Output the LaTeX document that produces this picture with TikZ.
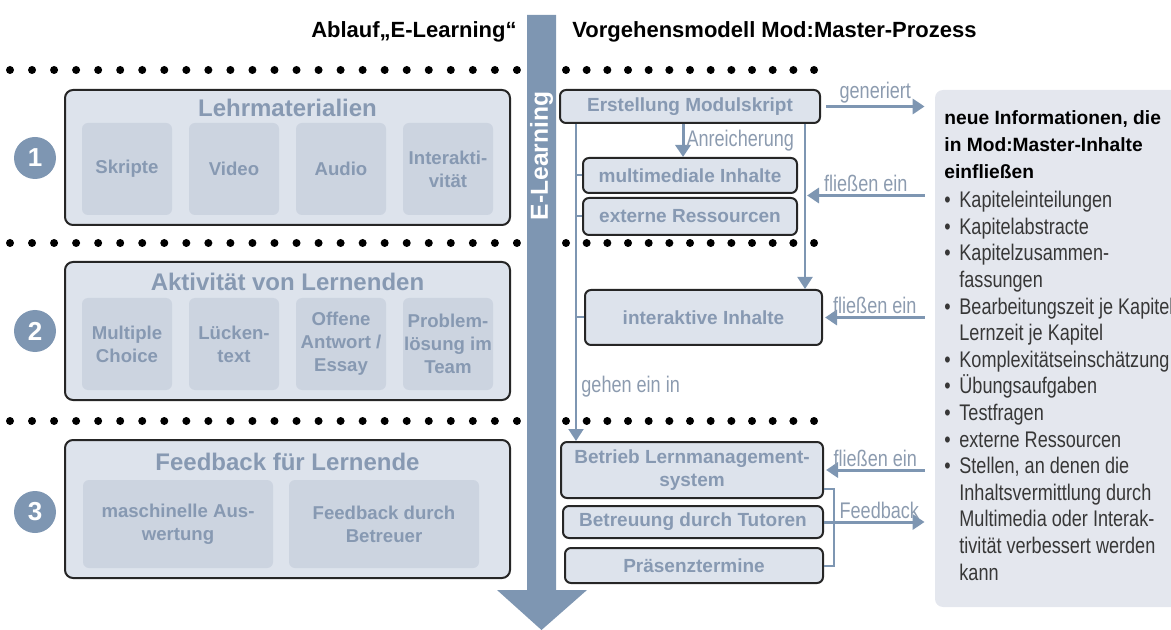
\documentclass[tikz,border=0pt]{standalone}
\usepackage{fontspec}
\setmainfont{Liberation Sans}
\newfontfamily\condfont{Liberation Sans}[FakeStretch=0.8]
\usetikzlibrary{arrows.meta,calc}
\definecolor{spine}{RGB}{126,150,178}
\definecolor{boxtext}{RGB}{135,153,178}
\definecolor{stagefill}{RGB}{221,227,236}
\definecolor{itemfill}{RGB}{204,212,224}
\definecolor{infofill}{RGB}{228,231,238}
\definecolor{lblgray}{RGB}{140,155,175}
\definecolor{listtext}{RGB}{55,55,55}
\newcommand{\lbul}{\makebox[7.5pt][l]{\textbullet}}
\newcommand{\lind}{\hspace*{7.5pt}}
\tikzset{>={Triangle[length=6pt,width=7.5pt]},
  flow/.style={->,draw=spine,line width=1.5pt},
  tie/.style={draw=spine,line width=1pt},
  stage/.style={draw=black!85,line width=1pt,fill=stagefill,rounded corners=4pt,
    inner sep=0pt,minimum width=222.5pt},
  item/.style={fill=itemfill,rounded corners=3pt,text=boxtext,align=center,
    font=\bfseries\fontsize{9.3}{11.5}\selectfont,inner sep=0pt,
    minimum width=45pt,minimum height=46pt},
  ttl/.style={text=boxtext,font=\bfseries\fontsize{12}{14}\selectfont},
  num/.style={circle,fill=spine,text=white,font=\bfseries\fontsize{13}{15}\selectfont,
    minimum size=21pt,inner sep=0pt},
  proc/.style={draw=black!85,line width=1pt,fill=stagefill,rounded corners=3pt,
    text=boxtext,font=\bfseries\fontsize{9.5}{11.5}\selectfont,align=center,inner sep=0pt},
  lbl/.style={text=lblgray,font=\condfont\fontsize{11.3}{13}\selectfont,inner sep=1pt},
  head/.style={font=\bfseries\fontsize{11}{13}\selectfont,inner sep=0pt}}

\begin{document}
\begin{tikzpicture}[x=0.5pt,y=-0.5pt]
  \useasboundingbox (0,0) rectangle (1171,630);
  % headings
  \node[head,anchor=east] (ttlL) at (517,32) {Ablauf„E-Learning“};
  \node[head,anchor=west] (ttlR) at (572,32) {Vorgehensmodell Mod:Master-Prozess};
  % dotted rows
  \foreach \y in {70,243,421} {
    \foreach \i in {0,...,23} \fill (10+22.04*\i,\y) circle (2pt);
    \foreach \i in {0,...,12} \fill (566+20.67*\i,\y) circle (2pt);
  }
  % E-Learning spine
  \fill[spine] (527,15) -- (556,15) -- (556,590) -- (587,590) -- (541.5,630)
    -- (497,590) -- (527,590) -- cycle;
  \node[rotate=90,text=white,font=\bfseries\fontsize{12.3}{14}\selectfont] (elrn)
    at (541.5,156) {E-Learning};

  % left stages
  \node[stage,minimum height=67.5pt] (lm) at (287.5,157.5) {};
  \node[stage,minimum height=69pt] (al) at (287.5,331) {};
  \node[stage,minimum height=69pt] (fb) at (287.5,509) {};
  \node[ttl] (lmT) at (287.5,108) {Lehrmaterialien};
  \node[ttl] (alT) at (287.5,282) {Aktivität von Lernenden};
  \node[ttl] (fbT) at (287.5,462) {Feedback für Lernende};
  \foreach \x/\t [count=\i] in {127/Skripte,234/Video,341/Audio,448/{Interakti-\\vität}}
    \node[item] (lm\i) at (\x,169) {\t};
  \foreach \x/\t [count=\i] in {127/{Multiple\\Choice},234/{Lücken-\\text},
      341/{Offene\\Antwort /\\Essay},448/{Problem-\\lösung im\\Team}}
    \node[item] (al\i) at (\x,344) {\t};
  \node[item,minimum width=95pt,minimum height=44pt] (fb1) at (178,524) {maschinelle Aus-\\wertung};
  \node[item,minimum width=95pt,minimum height=44pt] (fb2) at (384,524) {Feedback durch\\Betreuer};
  \node[num] (n1) at (35,158) {1};
  \node[num] (n2) at (35,331) {2};
  \node[num] (n3) at (35,512) {3};

  % right process
  \node[proc,minimum width=130pt,minimum height=16.5pt] (ems) at (690,106.5) {Erstellung Modulskript};
  \node[proc,minimum width=107pt,minimum height=17.5pt] (mmi) at (690,175.5) {multimediale Inhalte};
  \node[proc,minimum width=107pt,minimum height=18.5pt] (ext) at (690,216.5) {externe Ressourcen};
  \node[proc,minimum width=118.5pt,minimum height=27.5pt] (iai) at (703.5,317.5) {interaktive Inhalte};
  \node[proc,minimum width=131pt,minimum height=28pt] (lms) at (692,470) {Betrieb Lernmanagement-\\system};
  \node[proc,minimum width=130pt,minimum height=16pt] (tut) at (693,522) {Betreuung durch Tutoren};
  \node[proc,minimum width=129pt,minimum height=17.5pt] (pra) at (694,565.5) {Präsenztermine};

  % info box
  \node[fill=infofill,rounded corners=4pt,minimum width=125pt,minimum height=258.5pt,
    inner sep=0pt] (info) at (1060,348.5) {};
  \node[anchor=north west,align=left,inner sep=0pt,
    font=\bfseries\fontsize{9.6}{13.5}\selectfont] (infoT) at (944,110)
    {neue Informationen, die\\in Mod:Master-Inhalte\\einfließen};
  \node[anchor=north west,align=left,inner sep=0pt,text=listtext,
    font=\condfont\fontsize{11.3}{13.3}\selectfont] (infoL) at (944,191)
    {\lbul Kapiteleinteilungen\\\lbul Kapitelabstracte\\\lbul Kapitelzusammen-\\
     \lind fassungen\\\lbul Bearbeitungszeit je Kapitel\\\lind Lernzeit je Kapitel\\
     \lbul Komplexitätseinschätzung\\\lbul Übungsaufgaben\\\lbul Testfragen\\
     \lbul externe Ressourcen\\\lbul Stellen, an denen die\\
     \lind Inhaltsvermittlung durch\\\lind Multimedia oder Interak-\\
     \lind tivität verbessert werden\\\lind kann};

  % connectors
  \coordinate (ltop) at ([xshift=8.5pt]ems.south west);
  \coordinate (rtop) at ([xshift=-8pt]ems.south east);
  \coordinate (gap1) at ($(mmi.south)!0.5!(ext.north)$);
  \draw[flow] ([xshift=-3.5pt]ems.south) -- ([xshift=-3.5pt]mmi.north)
    node[lbl,midway,anchor=west] {Anreicherung};
  \draw[tie,->,line width=1pt] (ltop) -- (ltop |- lms.north);
  \draw[tie,->,line width=1pt] (rtop) -- (rtop |- iai.north);
  \foreach \n in {mmi,ext,iai} \draw[tie] (ltop |- \n.west) -- (\n.west);
  \node[lbl,anchor=west] (gehen) at (579,387) {gehen ein in};
  \draw[flow] ([xshift=2.5pt]ems.east) -- ([xshift=-5pt]info.west |- ems.east)
    node[lbl,midway,above] {generiert};
  \draw[flow] ([xshift=-5pt]info.west |- gap1) -- ([xshift=1pt]rtop |- gap1)
    node[lbl,midway,above] {fließen ein};
  \draw[flow] ([xshift=-5pt]info.west |- iai.east) -- ([xshift=1pt]iai.east)
    node[lbl,midway,above] {fließen ein};
  \draw[flow] ([xshift=-5pt]info.west |- lms.east) -- ([xshift=1pt]lms.east)
    node[lbl,midway,above] {fließen ein};
  \draw[tie] ([yshift=5pt]lms.south east) -- ++(5pt,0) coordinate (bk) |- (pra.east);
  \draw[flow] (tut.east) -- ([xshift=-5pt]info.west |- tut.east)
    node[lbl,pos=0.55,above] {Feedback};
\end{tikzpicture}
\end{document}
